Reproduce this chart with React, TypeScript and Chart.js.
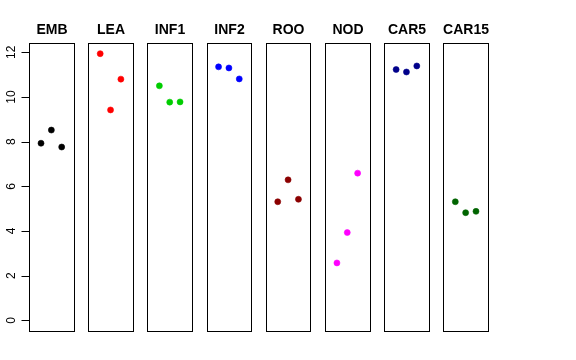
import React, { useEffect, useRef } from "react";
import { Chart, registerables } from "chart.js";

Chart.register(...registerables);

const categories = ["EMB", "LEA", "INF1", "INF2", "ROO", "NOD", "CAR5", "CAR15"];
const embValues = [7.93, 8.52, 7.76];
const leaValues = [11.94, 9.42, 10.8];
const inf1Values = [10.5, 9.77, 9.78];
const inf2Values = [11.35, 11.3, 10.81];
const rooValues = [5.31, 6.29, 5.42];
const nodValues = [2.57, 3.93, 6.59];
const car5Values = [11.23, 11.12, 11.39];
const car15Values = [5.31, 4.82, 4.88];
const seriesValues = [embValues, leaValues, inf1Values, inf2Values, rooValues, nodValues, car5Values, car15Values];
const seriesColors = ["#000000", "#FF0000", "#00CD00", "#0000FF", "#8B0000", "#FF00FF", "#00008B", "#006400"];
const yTickLabels = [0, 2, 4, 6, 8, 10, 12];

const PITCH = 5.72;
const XLO = -0.16;
const XHI = 4.16;
const YMIN = -0.478;
const YMAX = 12.418;
const FONT = '"Liberation Sans", Arial, Helvetica, sans-serif';

const panelPlugin = {
  id: "panels",
  afterDraw(chart: any) {
    const ctx = chart.ctx as CanvasRenderingContext2D;
    const xs = chart.scales.x;
    const ys = chart.scales.y;
    const top = chart.chartArea.top;
    const bottom = chart.chartArea.bottom;
    ctx.save();
    ctx.strokeStyle = "#000";
    ctx.lineWidth = 1;
    categories.forEach((name, i) => {
      const l = Math.round(xs.getPixelForValue(i * PITCH + XLO)) + 0.5;
      const r = Math.round(xs.getPixelForValue(i * PITCH + XHI)) + 0.5;
      const t = Math.round(top) + 0.5;
      const b = Math.round(bottom) + 0.5;
      ctx.strokeRect(l, t, r - l, b - t);
      ctx.fillStyle = "#000";
      ctx.font = `bold 14px ${FONT}`;
      ctx.textAlign = "center";
      ctx.textBaseline = "alphabetic";
      ctx.fillText(name, (l + r) / 2, 34);
    });
    // y axis ticks on the first panel
    const x0 = Math.round(xs.getPixelForValue(XLO)) + 0.5;
    ctx.font = `12px ${FONT}`;
    yTickLabels.forEach((v) => {
      const py = Math.round(ys.getPixelForValue(v)) + 0.5;
      ctx.beginPath();
      ctx.moveTo(x0 - 8, py);
      ctx.lineTo(x0, py);
      ctx.stroke();
      ctx.save();
      ctx.translate(15, ys.getPixelForValue(v));
      ctx.rotate(-Math.PI / 2);
      ctx.textAlign = "center";
      ctx.textBaseline = "alphabetic";
      ctx.fillText(String(v), 0, 0);
      ctx.restore();
    });
    const p0 = Math.round(ys.getPixelForValue(yTickLabels[0])) + 0.5;
    const p1 = Math.round(ys.getPixelForValue(yTickLabels[yTickLabels.length - 1])) + 0.5;
    ctx.beginPath();
    ctx.moveTo(x0, p0);
    ctx.lineTo(x0, p1);
    ctx.stroke();
    ctx.restore();
  },
};

export default function App() {
  const ref = useRef<HTMLCanvasElement | null>(null);
  useEffect(() => {
    if (!ref.current) return;
    const datasets = seriesValues.map((vals, i) => ({
      label: categories[i],
      data: vals.map((v, j) => ({ x: i * PITCH + j + 1, y: v })),
      backgroundColor: seriesColors[i],
      borderColor: seriesColors[i],
      pointRadius: 3,
      pointBorderWidth: 0.6,
      showLine: false,
    }));
    const chart = new Chart(ref.current, {
      type: "scatter",
      data: { datasets },
      options: {
        animation: false,
        responsive: false,
        devicePixelRatio: 1,
        events: [],
        layout: { padding: { left: 29, top: 43, right: 88, bottom: 29 } },
        plugins: { legend: { display: false }, tooltip: { enabled: false }, title: { display: false } },
        scales: {
          x: { type: "linear", display: false, min: XLO, max: 7 * PITCH + XHI },
          y: { type: "linear", display: false, min: YMIN, max: YMAX },
        },
      },
      plugins: [panelPlugin],
    });
    return () => chart.destroy();
  }, []);
  return (
    <div style={{ position: "fixed", left: 0, top: 0, width: 576, height: 360, background: "#fff" }}>
      <canvas ref={ref} width={576} height={360} />
    </div>
  );
}
